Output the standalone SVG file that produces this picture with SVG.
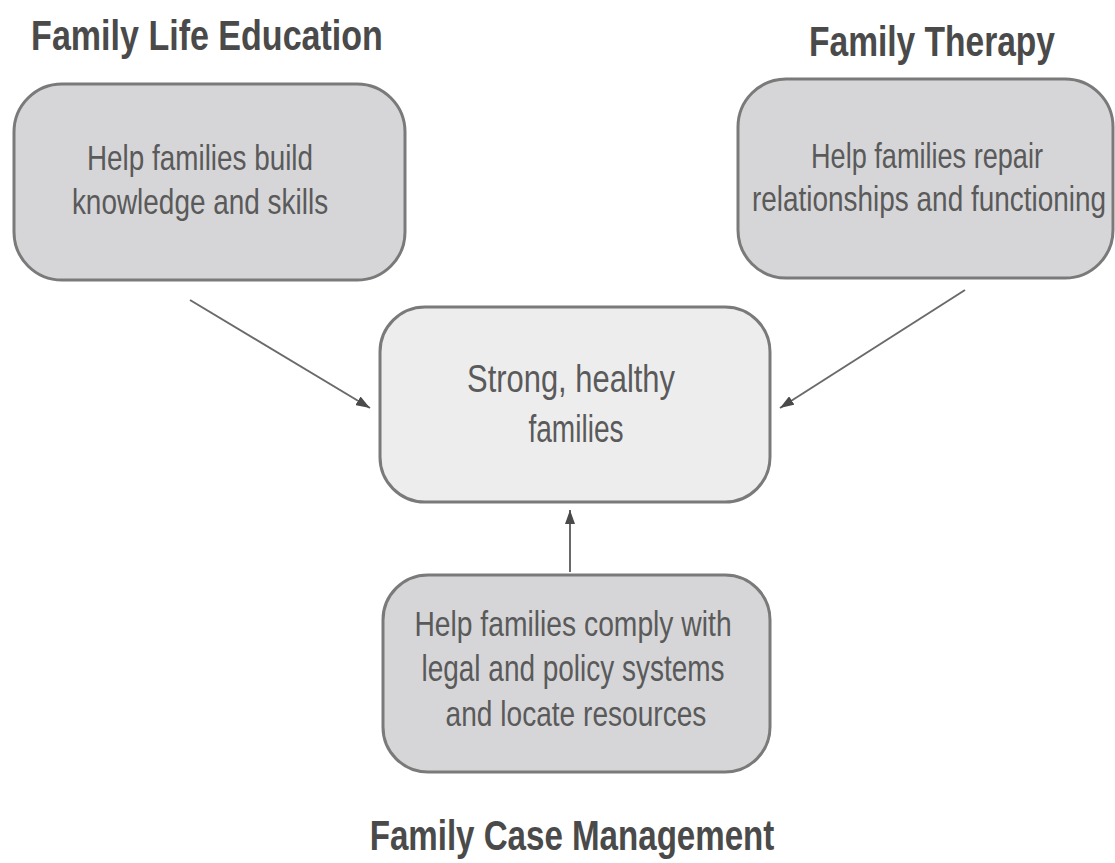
<svg xmlns="http://www.w3.org/2000/svg" width="1115" height="863" viewBox="0 0 1115 863">
<defs>
<style>
.title{font-family:"Liberation Sans",Arial,sans-serif;font-weight:bold;font-size:43px;fill:#4a4a4a;text-anchor:middle}
.body{font-family:"Liberation Sans",Arial,sans-serif;font-size:36px;fill:#5a5a5a;text-anchor:middle}
.center{font-family:"Liberation Sans",Arial,sans-serif;font-size:39px;fill:#5a5a5a;text-anchor:middle}
.box{fill:#d6d6d8;stroke:#7a7a7a;stroke-width:3}
.cbox{fill:#ededee;stroke:#7a7a7a;stroke-width:3}
.conn{stroke:#6a6a6a;stroke-width:2;fill:none}
</style>
<marker id="ah" viewBox="0 0 14 10" refX="14" refY="5" markerWidth="14" markerHeight="10" markerUnits="userSpaceOnUse" orient="auto">
<path d="M0,0 L14,5 L0,10 Z" fill="#4a4a4a"/>
</marker>
</defs>
<rect width="1115" height="863" fill="#ffffff"/>
<g id="fle">
<text class="title" transform="translate(207,50) scale(0.792,1)">Family Life Education</text>
<rect class="box" x="14" y="84" width="391" height="196" rx="48" ry="48"/>
<text class="body" transform="translate(200,170) scale(0.774,1)">Help families build</text>
<text class="body" transform="translate(200,214) scale(0.776,1)">knowledge and skills</text>
</g>
<g id="ft">
<text class="title" transform="translate(932,56) scale(0.78,1)">Family Therapy</text>
<rect class="box" x="738" y="79" width="375" height="199" rx="48" ry="48"/>
<text class="body" transform="translate(927,168) scale(0.753,1)">Help families repair</text>
<text class="body" transform="translate(929,211) scale(0.776,1)">relationships and functioning</text>
</g>
<g id="center">
<rect class="cbox" x="380" y="307" width="390" height="195" rx="45" ry="45"/>
<text class="center" transform="translate(571,392) scale(0.793,1)">Strong, healthy</text>
<text class="center" transform="translate(576,442) scale(0.72,1)">families</text>
</g>
<g id="fcm">
<rect class="box" x="383" y="575" width="387" height="197" rx="45" ry="45"/>
<text class="body" transform="translate(573,636) scale(0.785,1)">Help families comply with</text>
<text class="body" transform="translate(573,681) scale(0.777,1)">legal and policy systems</text>
<text class="body" transform="translate(576,726) scale(0.781,1)">and locate resources</text>
<text class="title" transform="translate(572,850) scale(0.77,1)">Family Case Management</text>
</g>
<g id="connectors">
<line class="conn" x1="190" y1="300" x2="370" y2="408" marker-end="url(#ah)"/>
<line class="conn" x1="965" y1="290" x2="780" y2="408" marker-end="url(#ah)"/>
<line class="conn" x1="570" y1="572" x2="570" y2="510" marker-end="url(#ah)"/>
</g>
</svg>
